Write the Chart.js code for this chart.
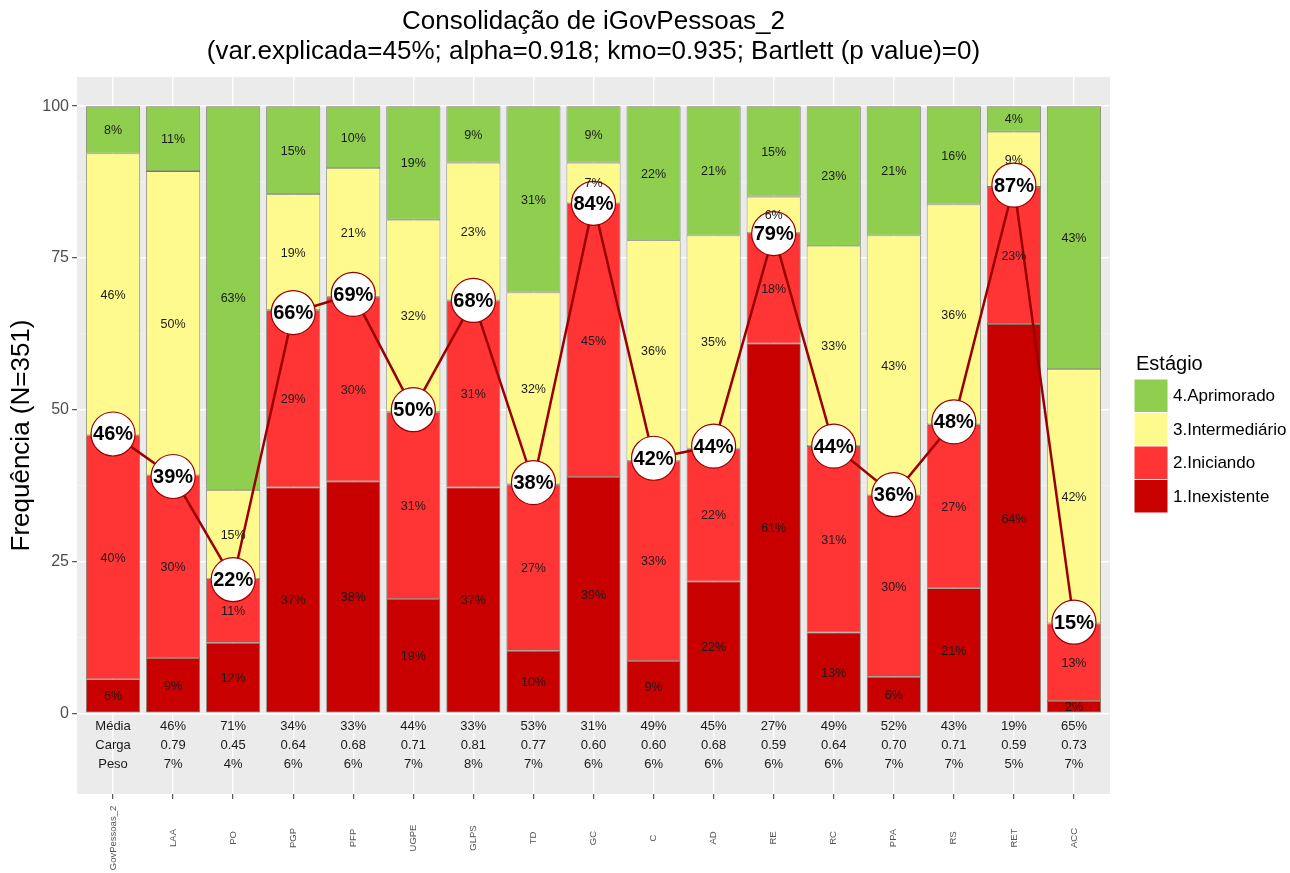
<!DOCTYPE html>
<html>
<head>
<meta charset="utf-8">
<script src="https://cdn.jsdelivr.net/npm/chart.js@4.4.1/dist/chart.umd.min.js"></script>
<style>
  body { margin: 0; background: #fff; }
  canvas { display: block; }
</style>
</head>
<body>
<canvas id="chart" width="1290" height="873"></canvas>
<script>
// Itens avaliados (eixo x)
const categorias = ['GovPessoas_2', 'LAA', 'PO', 'PGP', 'PFP', 'UGPE', 'GLPS', 'TD', 'GC',
                    'C', 'AD', 'RE', 'RC', 'PPA', 'RS', 'RET', 'ACC'];

// Percentual por estágio
const inexistente   = [5.6, 9.1, 11.6, 37.2, 38.2, 18.8, 37.2, 10.3, 38.9, 8.6, 21.7, 60.9, 13.3, 6.0, 20.6, 64.1, 2.0];
const iniciando     = [40.2, 30.1, 10.5, 29.2, 30.4, 30.8, 30.8, 27.4, 45.1, 33.0, 21.9, 18.2, 30.7, 29.9, 27.0, 22.6, 12.8];
const intermediario = [46.4, 50.1, 14.7, 19.1, 21.2, 31.7, 22.7, 31.6, 6.7, 36.3, 35.1, 6.0, 33.0, 42.8, 36.2, 9.1, 41.9];
const aprimorado    = [7.8, 10.7, 63.2, 14.5, 10.2, 18.7, 9.3, 30.7, 9.3, 22.1, 21.3, 14.9, 23.0, 21.3, 16.2, 4.2, 43.3];

// Linha: inexistente + iniciando
const linhaVals = [46, 39, 22, 66, 69, 50, 68, 38, 84, 42, 44, 79, 44, 36, 48, 87, 15];

// Linhas de texto abaixo das barras
const linhaMedia = ['Média', '46%', '71%', '34%', '33%', '44%', '33%', '53%', '31%', '49%', '45%', '27%', '49%', '52%', '43%', '19%', '65%'];
const linhaCarga = ['Carga', '0.79', '0.45', '0.64', '0.68', '0.71', '0.81', '0.77', '0.60', '0.60', '0.68', '0.59', '0.64', '0.70', '0.71', '0.59', '0.73'];
const linhaPeso  = ['Peso', '7%', '4%', '6%', '6%', '7%', '8%', '7%', '6%', '6%', '6%', '6%', '6%', '7%', '7%', '5%', '7%'];

const yTicks = [0, 25, 50, 75, 100];

const cores = {
    inexistente: '#C80000',
    iniciando: '#FF3535',
    intermediario: '#FFFA8E',
    aprimorado: '#8FCE4E',
    linha: '#9B0000'
};

const legenda = [
    { text: '4.Aprimorado', color: cores.aprimorado },
    { text: '3.Intermediário', color: cores.intermediario },
    { text: '2.Iniciando', color: cores.iniciando },
    { text: '1.Inexistente', color: cores.inexistente }
];

const FONT = '"Liberation Sans", Arial, sans-serif';

function toXY(arr) {
    return arr.map(function(v, i) { return { x: i, y: v }; });
}

function barDataset(label, values, color) {
    return {
        type: 'bar',
        label: label,
        data: toXY(values),
        backgroundColor: color,
        borderColor: 'rgba(80,80,60,0.75)',
        borderWidth: 0.8,
        borderSkipped: false,
        stack: 'barras',
        categoryPercentage: 0.9,
        barPercentage: 1.0,
        order: 1
    };
}

// Fundo cinza do painel + linhas menores
const painelPlugin = {
    id: 'painel',
    beforeDraw: function(chart) {
        const a = chart.chartArea;
        const ctx = chart.ctx;
        ctx.save();
        ctx.fillStyle = '#EBEBEB';
        ctx.fillRect(a.left, a.top, a.right - a.left, a.bottom - a.top);
        ctx.strokeStyle = '#F7F7F7';
        ctx.lineWidth = 0.7;
        [12.5, 37.5, 62.5, 87.5].forEach(function(v) {
            const y = chart.scales.y.getPixelForValue(v);
            ctx.beginPath();
            ctx.moveTo(a.left, y);
            ctx.lineTo(a.right, y);
            ctx.stroke();
        });
        ctx.restore();
    }
};

// Rótulos, textos, título e legenda
const textosPlugin = {
    id: 'textos',
    afterDatasetsDraw: function(chart) {
        const ctx = chart.ctx;
        const xs = chart.scales.x;
        const ys = chart.scales.y;
        const a = chart.chartArea;
        ctx.save();
        ctx.textAlign = 'center';
        ctx.textBaseline = 'middle';

        // percentuais dentro dos segmentos
        ctx.font = '12.5px ' + FONT;
        ctx.fillStyle = '#1a1a1a';
        for (let d = 0; d < 4; d++) {
            const meta = chart.getDatasetMeta(d);
            const vals = chart.data.datasets[d].data;
            meta.data.forEach(function(el, i) {
                const cy = (el.y + el.base) / 2;
                ctx.fillText(Math.round(vals[i].y) + '%', el.x, cy + 1);
            });
        }

        // rótulos dos círculos
        const lm = chart.getDatasetMeta(4);
        ctx.font = 'bold 20px ' + FONT;
        ctx.fillStyle = '#000';
        lm.data.forEach(function(el, i) {
            ctx.fillText(linhaVals[i] + '%', el.x, el.y + 1);
        });

        // linhas Média / Carga / Peso
        ctx.font = '13px ' + FONT;
        ctx.fillStyle = '#1a1a1a';
        [[linhaMedia, -2.15], [linhaCarga, -5.3], [linhaPeso, -8.4]].forEach(function(row) {
            const y = ys.getPixelForValue(row[1]);
            row[0].forEach(function(t, i) {
                ctx.fillText(t, xs.getPixelForValue(i), y);
            });
        });

        // rótulos do eixo x (rotacionados)
        ctx.font = '9.5px ' + FONT;
        ctx.fillStyle = '#555';
        categorias.forEach(function(c, i) {
            ctx.save();
            ctx.translate(xs.getPixelForValue(i), 838);
            ctx.rotate(-Math.PI / 2);
            ctx.fillText(c, 0, 0);
            ctx.restore();
        });

        // título
        const cx = (a.left + a.right) / 2;
        ctx.font = '26px ' + FONT;
        ctx.fillStyle = '#000';
        ctx.fillText('Consolidação de iGovPessoas_2', cx, 22);
        ctx.fillText('(var.explicada=45%; alpha=0.918; kmo=0.935; Bartlett (p value)=0)', cx, 52);

        // legenda
        ctx.textAlign = 'left';
        ctx.font = '20px ' + FONT;
        ctx.fillText('Estágio', 1136, 364);
        ctx.font = '17px ' + FONT;
        legenda.forEach(function(item, k) {
            const top = 379 + k * 33.5;
            ctx.fillStyle = item.color;
            ctx.fillRect(1134, top, 34, 33.5);
            ctx.strokeStyle = '#ffffff';
            ctx.lineWidth = 1;
            ctx.strokeRect(1134, top, 34, 33.5);
            ctx.fillStyle = '#000';
            ctx.fillText(item.text, 1173, top + 17.5);
        });
        ctx.restore();
    }
};

new Chart(document.getElementById('chart'), {
    data: {
        datasets: [
            barDataset('1.Inexistente', inexistente, cores.inexistente),
            barDataset('2.Iniciando', iniciando, cores.iniciando),
            barDataset('3.Intermediário', intermediario, cores.intermediario),
            barDataset('4.Aprimorado', aprimorado, cores.aprimorado),
            {
                type: 'line',
                label: 'Inexistente + Iniciando',
                data: toXY(linhaVals),
                stack: 'linha',
                borderColor: cores.linha,
                borderWidth: 2.5,
                tension: 0,
                pointRadius: 22,
                pointBackgroundColor: '#ffffff',
                pointBorderColor: cores.linha,
                pointBorderWidth: 1.2,
                fill: false,
                order: 0
            }
        ]
    },
    options: {
        responsive: false,
        animation: false,
        layout: {
            padding: { top: 77, right: 180, bottom: 0, left: 0 }
        },
        plugins: {
            legend: { display: false },
            tooltip: { enabled: false },
            title: { display: false }
        },
        scales: {
            x: {
                type: 'linear',
                min: -0.6,
                max: 16.6,
                offset: false,
                stacked: true,
                afterBuildTicks: function(scale) {
                    scale.ticks = categorias.map(function(_, i) { return { value: i }; });
                },
                afterFit: function(scale) { scale.height = 79; },
                ticks: { display: false },
                border: { display: false },
                grid: {
                    offset: false,
                    color: '#ffffff',
                    lineWidth: 1.4,
                    drawTicks: true,
                    tickLength: 5,
                    tickColor: '#333333',
                    tickWidth: 1
                }
            },
            y: {
                min: -13.3,
                max: 104.8,
                stacked: true,
                afterBuildTicks: function(scale) {
                    scale.ticks = yTicks.map(function(v) { return { value: v }; });
                },
                afterFit: function(scale) { scale.width = 77; },
                border: { display: false },
                grid: {
                    color: '#ffffff',
                    lineWidth: 1.4,
                    drawTicks: true,
                    tickLength: 5,
                    tickColor: '#333333',
                    tickWidth: 1
                },
                ticks: {
                    color: '#4d4d4d',
                    font: { family: FONT, size: 16 },
                    padding: 3
                },
                title: {
                    display: true,
                    text: 'Frequência (N=351)',
                    color: '#000',
                    font: { family: FONT, size: 26 },
                    padding: { top: 6, bottom: 0 }
                }
            }
        }
    },
    plugins: [painelPlugin, textosPlugin]
});
</script>
</body>
</html>
